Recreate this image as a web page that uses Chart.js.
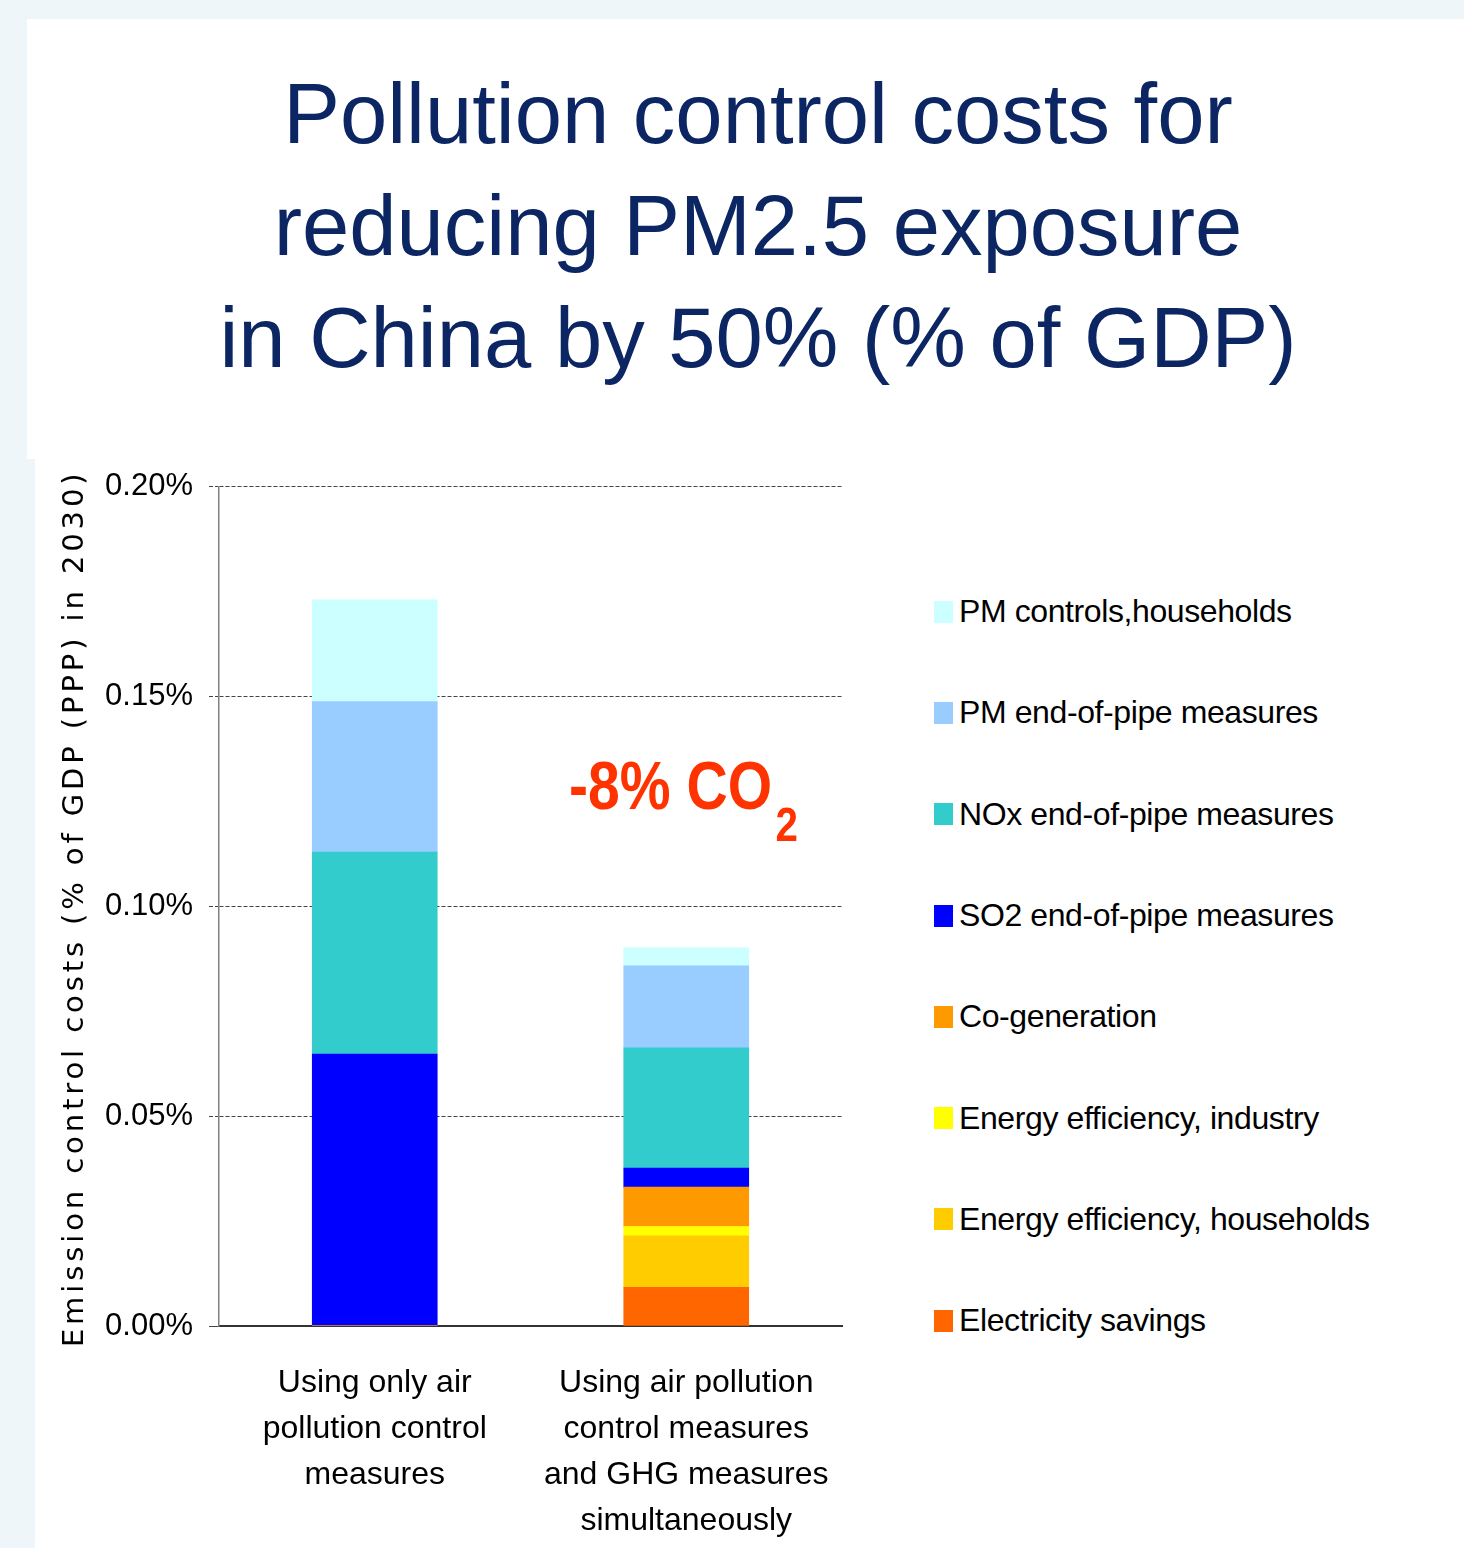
<!DOCTYPE html>
<html>
<head>
<meta charset="utf-8">
<script src="https://cdn.jsdelivr.net/npm/chart.js@4.4.1/dist/chart.umd.min.js"></script>
<style>
  html, body { margin: 0; padding: 0; }
  body { width: 1464px; height: 1548px; background: #eef6fa; position: relative; overflow: hidden; }
  .panel { position: absolute; background: #fff; }
  #title {
    position: absolute; left: 27px; top: 58px; width: 1462px; text-align: center;
    font-family: "Liberation Sans", Arial, sans-serif; font-size: 85px; line-height: 112px;
    color: #0c2563;
  }
  #wrap { position: absolute; left: 35px; top: 452px; width: 865px; height: 1096px; }
  #co2 {
    position: absolute; left: 569px; top: 746px; color: #ff3300;
    font-family: "Liberation Sans", sans-serif; font-weight: bold; font-size: 68px;
    white-space: nowrap; transform: scaleX(0.84); transform-origin: left top;
  }
  #co2 sub { font-size: 48px; vertical-align: -32px; margin-left: 4px; }
  #legend { position: absolute; left: 934px; top: 561px; }
  .item { height: 101.3px; display: flex; align-items: center; white-space: nowrap;
    font-family: "Liberation Sans", sans-serif; font-size: 32px; letter-spacing: -0.4px; color: #000; }
  .sw { width: 19px; height: 22px; margin-right: 6px; }
</style>
</head>
<body>
<div class="panel" style="left:27px;top:19px;width:1437px;height:440px"></div>
<div class="panel" style="left:35px;top:452px;width:1429px;height:1096px"></div>
<div id="title">Pollution control costs for<br>reducing PM2.5 exposure<br>in China by 50% (% of GDP)</div>
<div id="wrap"><canvas id="grafico"></canvas></div>
<div id="co2">-8% CO<sub>2</sub></div>
<div id="legend"></div>
<script>
// categorias e valores (% do PIB)
const categorias = [
  ['Using only air', 'pollution control', 'measures'],
  ['Using air pollution', 'control measures', 'and GHG measures', 'simultaneously']
];
const electricitySavings = [0, 0.0092];
const eeHouseholds = [0, 0.0123];
const eeIndustry = [0, 0.0022];
const coGeneration = [0, 0.0094];
const so2Pipe = [0.0648, 0.0045];
const noxPipe = [0.0481, 0.0287];
const pmPipe = [0.0359, 0.0195];
const pmHouseholds = [0.0242, 0.0043];
const yTicks = [0, 0.05, 0.10, 0.15, 0.20];
const yTitle = 'Emission control costs (% of GDP (PPP) in 2030)';

// titulo do eixo y com espacamento entre letras
const tituloY = {
  id: 'tituloY',
  afterDraw(chart) {
    const c = chart.ctx;
    const a = chart.chartArea;
    c.save();
    c.translate(40, (a.top + a.bottom) / 2 + 2);
    c.rotate(-Math.PI / 2);
    c.font = '29px "DejaVu Sans", Verdana, sans-serif';
    c.letterSpacing = '3.9px';
    c.fillStyle = '#000';
    c.textAlign = 'center';
    c.textBaseline = 'middle';
    c.fillText(yTitle, 0, 0);
    c.restore();
  }
};

const ctx = document.getElementById('grafico').getContext('2d');
const grafico = new Chart(ctx, {
  type: 'bar',
  data: {
    labels: categorias,
    datasets: [
      { label: 'Electricity savings', data: electricitySavings, backgroundColor: '#ff6600' },
      { label: 'Energy efficiency, households', data: eeHouseholds, backgroundColor: '#ffcc00' },
      { label: 'Energy efficiency, industry', data: eeIndustry, backgroundColor: '#ffff00' },
      { label: 'Co-generation', data: coGeneration, backgroundColor: '#ff9900' },
      { label: 'SO2 end-of-pipe measures', data: so2Pipe, backgroundColor: '#0000ff' },
      { label: 'NOx end-of-pipe measures', data: noxPipe, backgroundColor: '#33cccc' },
      { label: 'PM end-of-pipe measures', data: pmPipe, backgroundColor: '#99ccff' },
      { label: 'PM controls,households', data: pmHouseholds, backgroundColor: '#ccffff' }
    ]
  },
  options: {
    responsive: true,
    maintainAspectRatio: false,
    animation: false,
    datasets: { bar: { barThickness: 125, borderWidth: 0 } },
    layout: { padding: { left: 0, right: 58, top: 28, bottom: 0 } },
    plugins: { legend: { display: false }, tooltip: { enabled: false } },
    scales: {
      x: {
        stacked: true,
        grid: { display: false },
        border: { display: true, color: '#333', width: 2 },
        ticks: { color: '#000', padding: 26, maxRotation: 0, font: { family: '"Liberation Sans", sans-serif', size: 32, lineHeight: 1.4375 } },
        afterFit: s => { s.height = 222; }
      },
      y: {
        stacked: true,
        min: 0, max: 0.2,
        afterBuildTicks: s => { s.ticks = yTicks.map(v => ({ value: v })); },
        ticks: {
          color: '#000', padding: 16,
          font: { family: '"Liberation Sans", sans-serif', size: 31 },
          callback: v => v.toFixed(2) + '%'
        },
        grid: { color: '#444', lineWidth: 1, tickLength: 10, tickColor: '#444',
          tickBorderDash: c => c.tick && c.tick.value === 0 ? [] : [4, 2] },
        border: { display: true, color: '#808080', width: 1.5,
          dash: c => c.tick && c.tick.value === 0 ? [] : [4, 2] },
        title: { display: false },
        afterFit: s => { s.width = 184; }
      }
    }
  },
  plugins: [tituloY]
});

// legenda em HTML (ordem invertida)
const legenda = document.getElementById('legend');
grafico.data.datasets.slice().reverse().forEach(ds => {
  const row = document.createElement('div');
  row.className = 'item';
  row.innerHTML = '<span class="sw" style="background:' + ds.backgroundColor + '"></span>' + ds.label;
  legenda.appendChild(row);
});
</script>
</body>
</html>
